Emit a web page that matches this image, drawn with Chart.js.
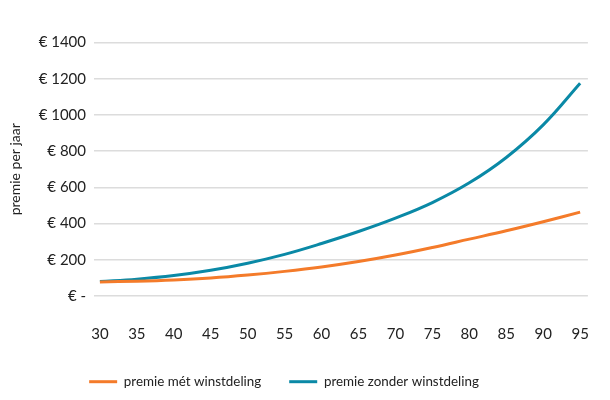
<!DOCTYPE html>
<html lang="nl">
  <head>
    <meta charset="UTF-8" />
    <title>Premie per jaar</title>
    <script src="https://cdn.jsdelivr.net/npm/chart.js"></script>
    <style>
      html, body { margin: 0; padding: 0; background: #fff; }
      #wrap { width: 610px; height: 400px; }
    </style>
  </head>
  <body>
    <div id="wrap"><canvas id="premieChart" width="610" height="400"></canvas></div>
    <script>
      // leeftijden (x-as) en premies per jaar
      const leeftijden = [30, 35, 40, 45, 50, 55, 60, 65, 70, 75, 80, 85, 90, 95];
      const premieMet = [78, 82, 89, 100, 116, 136, 160, 190, 226, 268, 314, 360, 410, 463];
      const premieZonder = [80, 93, 113, 142, 181, 230, 290, 356, 430, 516, 625, 765, 945, 1175];
      const yTicks = [0, 200, 400, 600, 800, 1000, 1200, 1400];

      const oranje = "#f47b2a";
      const blauw = "#0a89a6";

      function punten(waarden) {
        return leeftijden.map((l, i) => ({ x: l, y: waarden[i] }));
      }

      // legenda: vaste hoogte en iets naar links, zoals in het origineel
      const legendaFix = {
        id: "legendaFix",
        beforeLayout(chart) {
          const legend = chart.legend;
          if (!legend || legend._fixed) return;
          const fit = legend.fit;
          legend.fit = function () {
            fit.call(this);
            this.height = 53;
          };
          legend._fixed = true;
        },
        afterLayout(chart) {
          chart.legend.left -= 16;
          chart.legend.right -= 16;
        },
      };

      const ctx = document.getElementById("premieChart").getContext("2d");

      new Chart(ctx, {
        type: "line",
        data: {
          datasets: [
            {
              label: "premie mét winstdeling",
              data: punten(premieMet),
              borderColor: oranje,
              backgroundColor: oranje,
              borderWidth: 3,
              pointRadius: 0,
              tension: 0.4,
            },
            {
              label: "premie zonder winstdeling",
              data: punten(premieZonder),
              borderColor: blauw,
              backgroundColor: blauw,
              borderWidth: 3,
              pointRadius: 0,
              tension: 0.4,
            },
          ],
        },
        options: {
          responsive: false,
          animation: false,
          layout: { padding: { top: 42.5, right: 10, bottom: 0, left: 0 } },
          plugins: {
            tooltip: { enabled: false },
            legend: {
              position: "bottom",
              labels: {
                usePointStyle: true,
                pointStyle: "line",
                pointStyleWidth: 28,
                padding: 28,
                color: "#222",
                font: { family: "Lato", size: 13.4 },
              },
            },
          },
          scales: {
            x: {
              type: "linear",
              min: 29.2,
              max: 96.05,
              afterBuildTicks: (scale) => {
                scale.ticks = leeftijden.map((v) => ({ value: v }));
              },
              afterFit: (scale) => {
                scale.height = 51;
              },
              grid: { display: false },
              border: { display: false },
              ticks: {
                padding: 21,
                color: "#222",
                font: { family: "Lato", size: 15 },
                maxRotation: 0,
                autoSkip: false,
              },
            },
            y: {
              min: 0,
              max: 1400,
              afterBuildTicks: (scale) => {
                scale.ticks = yTicks.map((v) => ({ value: v }));
              },
              afterFit: (scale) => {
                scale.width = 94;
              },
              grid: { color: "#dcdcdc", lineWidth: 1.5, drawTicks: false },
              border: { display: false },
              ticks: {
                padding: 8,
                color: "#222",
                font: { family: "Lato", size: 15 },
                callback: (v) => (v === 0 ? "€ -" : "€ " + v),
              },
              title: {
                display: true,
                text: "premie per jaar",
                color: "#222",
                font: { family: "Lato", size: 14 },
                padding: { top: 7, bottom: 7 },
              },
            },
          },
        },
        plugins: [legendaFix],
      });
    </script>
  </body>
</html>
